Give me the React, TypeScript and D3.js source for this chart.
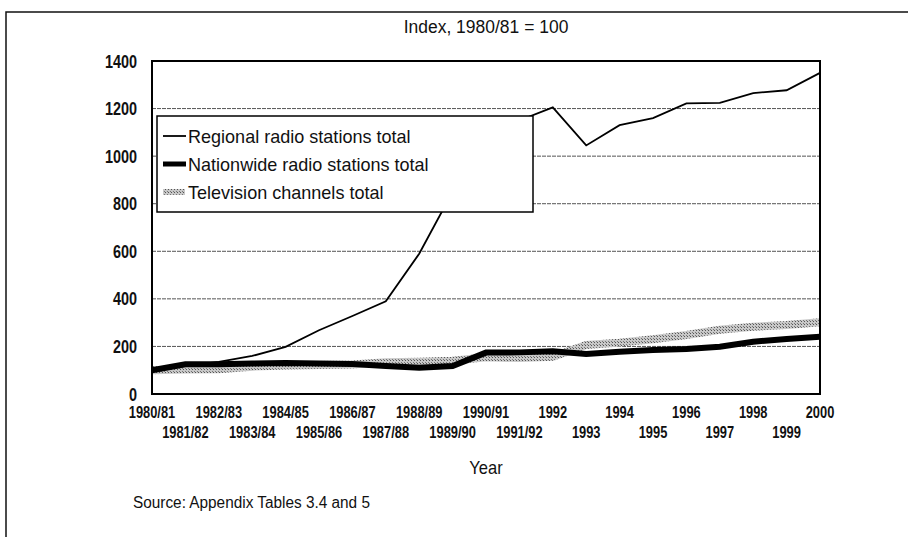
import React from "react";
import * as d3 from "d3";

const years = [
  "1980/81", "1981/82", "1982/83", "1983/84", "1984/85", "1985/86", "1986/87",
  "1987/88", "1988/89", "1989/90", "1990/91", "1991/92", "1992", "1993",
  "1994", "1995", "1996", "1997", "1998", "1999", "2000",
];
const regional = [100, 118, 135, 160, 198, 268, 328, 390, 590, 850, 1000, 1150, 1205, 1045, 1130, 1160, 1222, 1224, 1265, 1277, 1350];
const nationwide = [100, 125, 125, 128, 130, 128, 126, 118, 110, 118, 174, 175, 180, 168, 178, 185, 189, 199, 220, 231, 241];
const television = [100, 103, 104, 115, 120, 122, 124, 134, 136, 140, 154, 151, 157, 206, 216, 230, 248, 270, 283, 290, 302];
const yTicks = [0, 200, 400, 600, 800, 1000, 1200, 1400];
const legendLabels = ["Regional radio stations total", "Nationwide radio stations total", "Television channels total"];

const W = 908, H = 537;
const left = 152, right = 820, top = 61, bottom = 394;
const font = "'Liberation Sans', Arial, sans-serif";

// narrow text: the original uses a condensed face, so squeeze horizontally
function T({ x, y, sx = 0.85, size = 16, anchor = "start", bold = false, children }: any) {
  return (
    <text
      transform={`translate(${x},${y}) scale(${sx},1)`}
      textAnchor={anchor}
      fontFamily={font}
      fontSize={size}
      fontWeight={bold ? "bold" : "normal"}
      fill="#111"
    >
      {children}
    </text>
  );
}

export default function App() {
  const x = d3.scalePoint<string>().domain(years).range([left, right]);
  const y = d3.scaleLinear().domain([0, 1400]).range([bottom, top]);
  const line = d3.line<number>()
    .x((_, i) => x(years[i]) as number)
    .y(d => y(d));

  return (
    <svg width={W} height={H} style={{ position: "absolute", left: 0, top: 0, background: "#fff" }}>
      <defs>
        <pattern id="stip" width="3" height="3" patternUnits="userSpaceOnUse">
          <rect width="3" height="3" fill="#c8c8c8" />
          <rect width="1" height="1" fill="#555" />
          <rect x="2" y="2" width="1" height="1" fill="#777" />
        </pattern>
      </defs>
      {/* outer frame */}
      <path d={`M6,${H} V12 H${W}`} fill="none" stroke="#111" strokeWidth={1.5} />
      <T x={(left + right) / 2} y={33} size={19} sx={0.92} anchor="middle">Index,  1980/81 = 100</T>

      {/* grid */}
      {yTicks.filter(t => t > 0 && t < 1400).map(t => (
        <line key={t} x1={left} x2={right} y1={y(t)} y2={y(t)} stroke="#555" strokeWidth={1} strokeDasharray="4,1" />
      ))}
      {yTicks.map(t => (
        <T key={t} x={137} y={y(t) + 6.5} size={18.5} sx={0.78} anchor="end" bold>{t}</T>
      ))}

      {/* series */}
      <path d={line(television) || ""} fill="none" stroke="url(#stip)" strokeWidth={8} />
      <path d={line(nationwide) || ""} fill="none" stroke="#000" strokeWidth={6} />
      <path d={line(regional) || ""} fill="none" stroke="#000" strokeWidth={1.8} />

      {/* plot frame */}
      <rect x={left} y={top} width={right - left} height={bottom - top} fill="none" stroke="#000" strokeWidth={2} />

      {/* x labels */}
      {years.map((yr, i) => (
        <T key={yr} x={x(yr)} y={i % 2 === 0 ? 418 : 438} size={16.5} sx={0.78} anchor="middle" bold>{yr}</T>
      ))}
      <T x={(left + right) / 2} y={474} size={18} sx={0.92} anchor="middle">Year</T>
      <T x={133} y={508} size={16} sx={0.96}>Source: Appendix Tables 3.4 and 5</T>

      {/* legend */}
      <g>
        <rect x={157} y={116} width={376} height={96} fill="#fff" stroke="#000" strokeWidth={1.5} />
        {legendLabels.map((lab, i) => {
          const ly = 136 + i * 28;
          return (
            <g key={lab}>
              {i === 0 && <line x1={163} x2={186} y1={ly} y2={ly} stroke="#000" strokeWidth={1.8} />}
              {i === 1 && <line x1={163} x2={186} y1={ly} y2={ly} stroke="#000" strokeWidth={5} />}
              {i === 2 && <rect x={163} y={ly - 3} width={22} height={6} fill="url(#stip)" />}
              <T x={188} y={ly + 7} size={19} sx={0.95}>{lab}</T>
            </g>
          );
        })}
      </g>
    </svg>
  );
}
